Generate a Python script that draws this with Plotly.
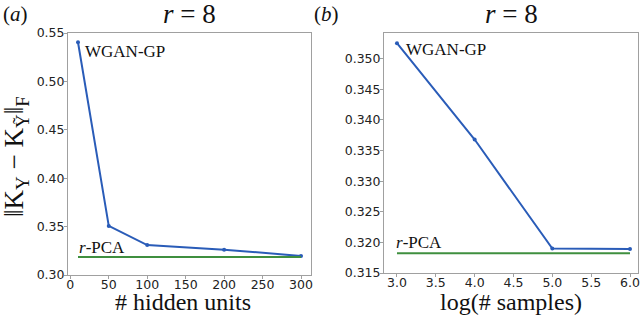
import plotly.graph_objects as go

# ---- data ----
hidden_units = [10, 50, 100, 200, 300]
wgan_hidden = [0.5404, 0.3507, 0.3309, 0.3262, 0.3197]
pca_hidden = 0.3185

log_samples = [3.0, 4.0, 5.0, 6.0]
wgan_samples = [0.35254, 0.3368, 0.31899, 0.31890]
pca_samples = 0.31824

left_yticks = [0.30, 0.35, 0.40, 0.45, 0.50, 0.55]
left_xticks = [0, 50, 100, 150, 200, 250, 300]
right_yticks = [0.315, 0.320, 0.325, 0.330, 0.335, 0.340, 0.345, 0.350]
right_xticks = [3.0, 3.5, 4.0, 4.5, 5.0, 5.5, 6.0]

BLUE = "#2a5cb8"
GREEN = "#3f8f3f"
SERIF = "Liberation Serif"
SANS = "DejaVu Sans"
W, H = 640, 315

fig = go.Figure()

# left panel
fig.add_trace(go.Scatter(x=hidden_units, y=wgan_hidden, mode="lines+markers",
                         line=dict(color=BLUE, width=2), marker=dict(size=4, color=BLUE),
                         xaxis="x", yaxis="y", showlegend=False))
fig.add_trace(go.Scatter(x=[hidden_units[0], hidden_units[-1]], y=[pca_hidden, pca_hidden],
                         mode="lines", line=dict(color=GREEN, width=2),
                         xaxis="x", yaxis="y", showlegend=False))
# right panel
fig.add_trace(go.Scatter(x=log_samples, y=wgan_samples, mode="lines+markers",
                         line=dict(color=BLUE, width=2), marker=dict(size=4, color=BLUE),
                         xaxis="x2", yaxis="y2", showlegend=False))
fig.add_trace(go.Scatter(x=[log_samples[0], log_samples[-1]], y=[pca_samples, pca_samples],
                         mode="lines", line=dict(color=GREEN, width=2),
                         xaxis="x2", yaxis="y2", showlegend=False))

axis_common = dict(showline=True, mirror=True, linecolor="#a0a0a0", linewidth=1,
                   ticks="outside", ticklen=3, tickcolor="#a0a0a0",
                   showgrid=False, zeroline=False, automargin=False,
                   tickfont=dict(family=SANS, size=12.5, color="#222"))

fig.update_layout(
    width=W, height=H,
    margin=dict(l=0, r=0, t=0, b=0, autoexpand=False),
    paper_bgcolor="white", plot_bgcolor="white",
    xaxis=dict(domain=[68/W, 311/W], range=[-3, 313], tickvals=left_xticks,
               anchor="y", ticklabelstandoff=-5, **axis_common),
    yaxis=dict(domain=[1-275/H, 1-33/H], range=[0.30, 0.55], tickvals=left_yticks,
               ticktext=[f"{v:.2f}" for v in left_yticks], anchor="x",
               ticklabelstandoff=-3, **axis_common),
    xaxis2=dict(domain=[384/W, 638/W], range=[2.833, 6.103], tickvals=right_xticks,
                ticktext=[f"{v:.1f}" for v in right_xticks], anchor="y2",
                ticklabelstandoff=-5, **axis_common),
    yaxis2=dict(domain=[1-273/H, 1-33/H], range=[0.315, 0.3542], tickvals=right_yticks,
                ticktext=[f"{v:.3f}" for v in right_yticks], anchor="x2",
                ticklabelstandoff=-3, **axis_common),
)

label_font = dict(family=SERIF, size=24, color="#111")
ann_font = dict(family=SERIF, size=17, color="#111")
title_font = dict(family=SERIF, size=27, color="#111")

# axis titles
fig.add_annotation(x=183/W, y=1-302/H, xref="paper", yref="paper", text="# hidden units",
                   showarrow=False, xanchor="center", yanchor="middle", font=label_font)
fig.add_annotation(x=0.5, y=1-302/H, xref="x2 domain", yref="paper", text="log(# samples)",
                   showarrow=False, xanchor="center", yanchor="middle", font=label_font)
fig.add_annotation(x=16/W, y=1-157/H, xref="paper", yref="paper",
                   text="‖K<sub>Y</sub> − K<sub>Ỹ</sub>‖<sub>F</sub>", textangle=-90,
                   showarrow=False, xanchor="center", yanchor="middle",
                   font=dict(family=SERIF, size=27, color="#111"))

# series labels
fig.add_annotation(x=hidden_units[0], y=wgan_hidden[0], xref="x", yref="y",
                   text="WGAN-GP", showarrow=False, xanchor="left", yanchor="top",
                   xshift=5, yshift=2, font=ann_font)
fig.add_annotation(x=hidden_units[0], y=pca_hidden, xref="x", yref="y",
                   text="<i>r</i>-PCA", showarrow=False, xanchor="left", yanchor="bottom",
                   xshift=-1, yshift=-2, font=ann_font)
fig.add_annotation(x=log_samples[0], y=wgan_samples[0], xref="x2", yref="y2",
                   text="WGAN-GP", showarrow=False, xanchor="left", yanchor="top",
                   xshift=7, yshift=5, font=ann_font)
fig.add_annotation(x=log_samples[0], y=pca_samples, xref="x2", yref="y2",
                   text="<i>r</i>-PCA", showarrow=False, xanchor="left", yanchor="bottom",
                   xshift=-3, yshift=-1, font=ann_font)

# panel titles
fig.add_annotation(x=0.5, y=1, xref="x domain", yref="paper", text="<i>r</i> = 8",
                   showarrow=False, yanchor="top", yshift=3, font=title_font)
fig.add_annotation(x=0.5, y=1, xref="x2 domain", yref="paper", text="<i>r</i> = 8",
                   showarrow=False, yanchor="top", yshift=3, font=title_font)
fig.add_annotation(x=1/W, y=1, xref="paper", yref="paper", text="(<i>a</i>)",
                   showarrow=False, xanchor="left", yanchor="top", font=dict(family=SERIF, size=21, color="#111"))
fig.add_annotation(x=312/W, y=1, xref="paper", yref="paper", text="(<i>b</i>)",
                   showarrow=False, xanchor="left", yanchor="top", font=dict(family=SERIF, size=21, color="#111"))

fig.write_html("out.html", config={"displayModeBar": False},
               post_script="document.body.style.margin='0';document.body.style.overflow='hidden';")
